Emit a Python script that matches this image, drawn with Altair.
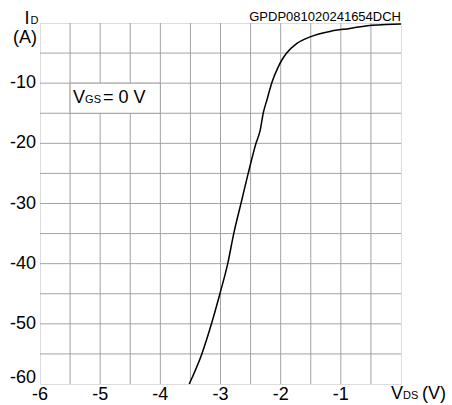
import altair as alt
import pandas as pd

# ---- data ----
vds = [-3.52, -3.31, -3.15, -3.01, -2.88, -2.78, -2.66, -2.54, -2.41, -2.34, -2.29,
       -2.22, -2.15, -2.04, -1.98, -1.90, -1.73, -1.51, -1.18, -0.85, -0.52, -0.25, 0.0]
i_d = [-60, -55, -50, -45, -40, -35, -30, -25, -20, -17.8, -15,
       -12.5, -10, -7.3, -6.15, -5, -3.4, -2.3, -1.4, -0.9, -0.4, -0.25, -0.15]

x_ticks = [-6, -5, -4, -3, -2, -1]
x_tick_labels = ["-6", "-5", "-4", "-3", "-2", "-1"]
y_ticks = [-10, -20, -30, -40, -50]
y_tick_labels = ["-10", "-20", "-30", "-40", "-50"]
y_last_tick = [-60]
y_last_label = ["-60"]
x_grid = [-5.5, -5, -4.5, -4, -3.5, -3, -2.5, -2, -1.5, -1, -0.5]
y_grid = [-55, -50, -45, -40, -35, -30, -25, -20, -15, -10, -5]

FONT = "Liberation Sans"
GRID = "#a3a3a3"

xs = alt.Scale(domain=[-6, 0], nice=False, zero=False)
ys = alt.Scale(domain=[-60, 0], nice=False, zero=False)

curve_df = pd.DataFrame({"V": vds, "I": i_d})

vgrid = alt.Chart(pd.DataFrame({"x": x_grid})).mark_rule(color=GRID, strokeWidth=1).encode(
    x=alt.X("x:Q", scale=xs, axis=None)
)
hgrid = alt.Chart(pd.DataFrame({"y": y_grid})).mark_rule(color=GRID, strokeWidth=1).encode(
    y=alt.Y("y:Q", scale=ys, axis=None)
)

curve = alt.Chart(curve_df).mark_line(color="black", strokeWidth=1.5, interpolate="monotone").encode(
    x=alt.X("V:Q", scale=xs, axis=None),
    y=alt.Y("I:Q", scale=ys, axis=None),
)

# white label box for V_GS annotation
box_df = pd.DataFrame({"x1": [-5.5], "x2": [-4.0], "y1": [-10], "y2": [-15]})
box = alt.Chart(box_df).mark_rect(fill="white", stroke=GRID, strokeWidth=1).encode(
    x=alt.X("x1:Q", scale=xs, axis=None), x2="x2:Q",
    y=alt.Y("y1:Q", scale=ys, axis=None), y2="y2:Q"
)

def txt(text, x, y, size=18, dx=0, dy=0, align="left", baseline="alphabetic"):
    return alt.Chart(pd.DataFrame({"x": [x], "y": [y]})).mark_text(
        text=text, font=FONT, fontSize=size, color="black", align=align, baseline=baseline,
        dx=dx, dy=dy
    ).encode(x=alt.X("x:Q", scale=xs, axis=None), y=alt.Y("y:Q", scale=ys, axis=None))

# tick labels
xlab = alt.Chart(pd.DataFrame({"x": x_ticks, "t": x_tick_labels, "y": [-60] * len(x_ticks)})).mark_text(
    font=FONT, fontSize=18, color="black", align="center", baseline="top", dy=2
).encode(x=alt.X("x:Q", scale=xs, axis=None), y=alt.Y("y:Q", scale=ys, axis=None), text="t:N")

ylab = alt.Chart(pd.DataFrame({"y": y_ticks, "t": y_tick_labels, "x": [-6] * len(y_ticks)})).mark_text(
    font=FONT, fontSize=18, color="black", align="right", baseline="middle", dx=-4
).encode(x=alt.X("x:Q", scale=xs, axis=None), y=alt.Y("y:Q", scale=ys, axis=None), text="t:N")

ylab_last = alt.Chart(pd.DataFrame({"y": y_last_tick, "t": y_last_label, "x": [-6]})).mark_text(
    font=FONT, fontSize=18, color="black", align="right", baseline="alphabetic", dx=-4, dy=-1
).encode(x=alt.X("x:Q", scale=xs, axis=None), y=alt.Y("y:Q", scale=ys, axis=None), text="t:N")

texts = [
    # y axis title I_D (A)
    txt("I", -6, 0, 18, dx=-15.5, dy=0.5),
    txt("D", -6, 0, 11, dx=-9.5, dy=0.5),
    txt("(A)", -6, 0, 18, dx=-3, dy=20, align="right"),
    # x axis title V_DS (V)
    txt("V", 0, -60, 18, dx=-10, dy=15),
    txt("DS", 0, -60, 11, dx=2, dy=15),
    txt("(V)", 0, -60, 18, dx=21, dy=15),
    # annotation V_GS = 0 V
    txt("V", -5.5, -10, 18, dx=3, dy=20),
    txt("GS", -5.5, -10, 11, dx=15, dy=20),
    txt("= 0 V", -5.5, -10, 18, dx=33, dy=20),
    # code
    txt("GPDP081020241654DCH", 0, 0, 13, dy=-2.5, align="right"),
]

chart = alt.layer(vgrid, hgrid, box, curve, xlab, ylab, ylab_last, *texts).properties(
    width=361, height=361,
    autosize=alt.AutoSizeParams(type="none"),
    padding={"left": 40, "top": 23, "right": 51, "bottom": 21},
).configure_view(stroke="black", strokeWidth=1.5).configure(background="white")

chart.save("out.html", embed_options={"renderer": "svg", "actions": False})
